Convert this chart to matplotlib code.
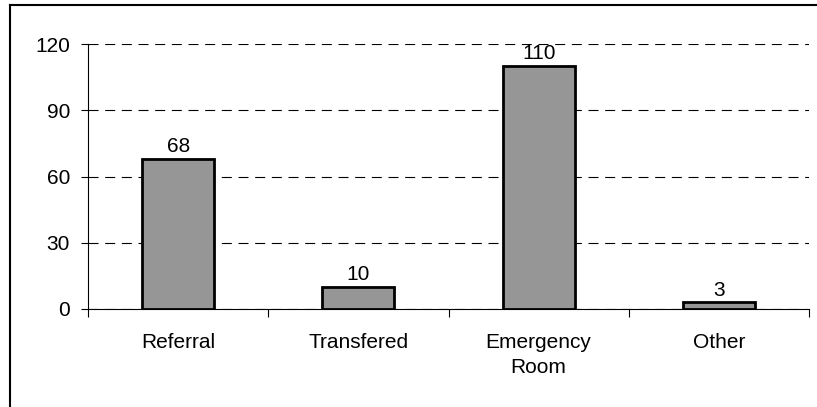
import numpy as np
import matplotlib.pyplot as plt
from matplotlib.lines import Line2D

categories = ["Referral", "Transfered", "Emergency\nRoom", "Other"]
counts = [68, 10, 110, 3]
yticks = [0, 30, 60, 90, 120]

plt.rcParams['font.family'] = ['Liberation Sans', 'DejaVu Sans']
plt.rcParams['font.size'] = 15

fig = plt.figure(figsize=(8.17, 4.07), dpi=100)
ax = fig.add_axes([88 / 817, 1 - 309 / 407, (809 - 88) / 817, (309 - 44) / 407])

x = np.arange(len(categories))
bars = ax.bar(x, counts, width=0.4, color='#969696', edgecolor='black',
              linewidth=2, zorder=3)
for b, v in zip(bars, counts):
    ax.annotate(str(v), (b.get_x() + b.get_width() / 2, v), xytext=(0, 2),
                textcoords='offset points', ha='center', va='bottom')

ax.set_xlim(-0.5, len(categories) - 0.5)
ax.set_ylim(0, 120)
ax.set_yticks(yticks)
ax.yaxis.grid(True, linestyle=(0, (9, 6)), color='black', linewidth=0.8)
ax.set_axisbelow(True)

# category labels between boundary ticks
ax.set_xticks(x)
ax.set_xticklabels(categories, linespacing=1.4)
ax.tick_params(axis='x', length=0, pad=17)
ax.set_xticks(np.arange(len(categories) + 1) - 0.5, minor=True)
ax.tick_params(axis='x', which='minor', length=6, width=0.8, direction='out')
ax.tick_params(axis='y', length=5, width=0.8, pad=8)

for s in ['top', 'right']:
    ax.spines[s].set_visible(False)
for s in ['left', 'bottom']:
    ax.spines[s].set_linewidth(0.8)

# outer frame (top and left edges visible)
fig.add_artist(Line2D([10 / 817, 1.01], [1 - 5 / 407, 1 - 5 / 407], color='black',
                      linewidth=1.5, transform=fig.transFigure))
fig.add_artist(Line2D([10 / 817, 10 / 817], [-0.01, 1 - 5 / 407], color='black',
                      linewidth=1.5, transform=fig.transFigure))

fig.savefig('out.png', dpi=100)
